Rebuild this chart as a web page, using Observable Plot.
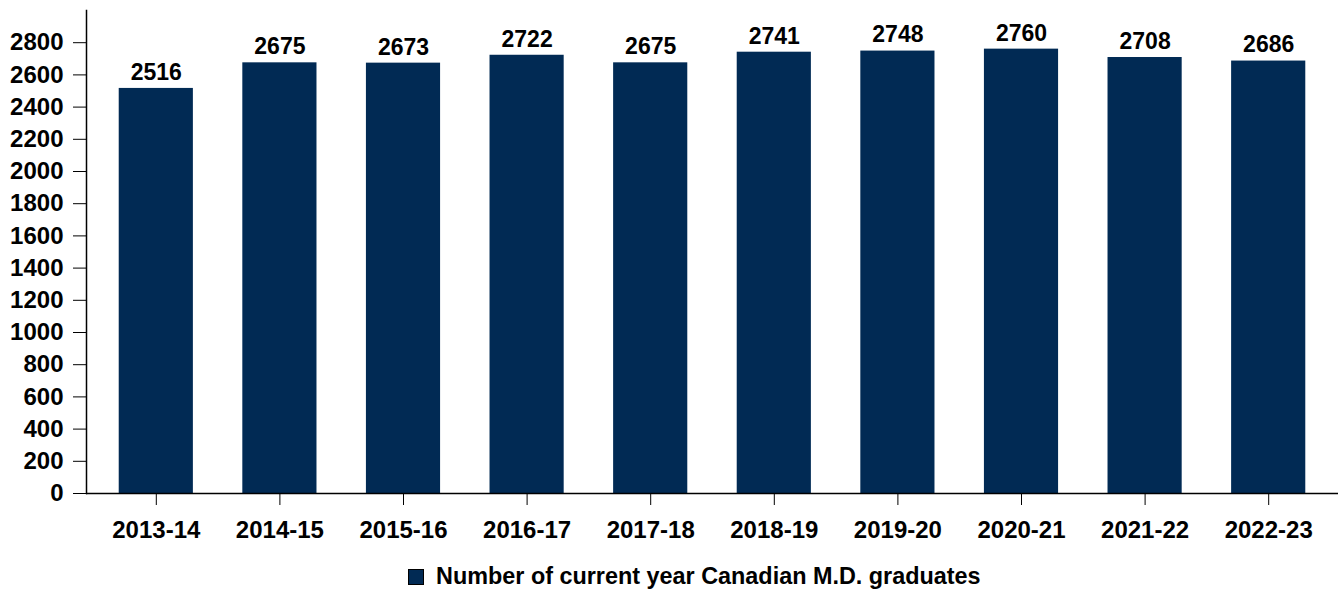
<!DOCTYPE html>
<html>
<head>
<meta charset="utf-8">
<script src="https://cdn.jsdelivr.net/npm/d3@7"></script>
<script src="https://cdn.jsdelivr.net/npm/@observablehq/plot@0.6"></script>
<style>
  html, body { margin: 0; padding: 0; background: #fff; }
  body { width: 1341px; height: 590px; position: relative; font-family: "Liberation Sans", Arial, sans-serif; overflow: hidden; }
  #legend { position: absolute; left: 408px; top: 565px; display: flex; align-items: center; font-weight: bold; font-size: 23.4px; line-height: 23px; color: #000; white-space: nowrap; }
  #legend .sw { width: 16px; height: 16px; background: #012a54; margin-right: 12px; box-sizing: border-box; border: 1px solid #000; }
</style>
</head>
<body>
<div id="chart"></div>
<div id="legend"><span class="sw"></span><span>Number of current year Canadian M.D. graduates</span></div>
<script>
const years = ["2013-14","2014-15","2015-16","2016-17","2017-18","2018-19","2019-20","2020-21","2021-22","2022-23"];
const graduates = [2516, 2675, 2673, 2722, 2675, 2741, 2748, 2760, 2708, 2686];
const yTicks = [0,200,400,600,800,1000,1200,1400,1600,1800,2000,2200,2400,2600,2800];
const seriesName = "Number of current year Canadian M.D. graduates";

const data = years.map((y, i) => ({year: y, value: graduates[i]}));

const chart = Plot.plot({
  width: 1341,
  height: 550,
  marginLeft: 86,
  marginRight: 3,
  marginTop: 10,
  marginBottom: 57,
  style: { fontFamily: '"Liberation Sans", Arial, sans-serif', fontSize: "24px", fontWeight: "bold", color: "#000", background: "#fff" },
  x: { domain: years, paddingInner: 0.4, paddingOuter: 0.2, round: false, insetLeft: 8, insetRight: 8, label: null, tickSize: 12, tickPadding: 15 },
  y: { domain: [0, 3000], ticks: yTicks, tickFormat: d => String(d), tickSize: 13, tickPadding: 10, label: null },
  marks: [
    Plot.barY(data, { x: "year", y: "value", fill: "#012a54" }),
    Plot.text(data, { x: "year", y: "value", text: d => String(d.value), dy: -16, fontSize: 23, fontWeight: "bold", fill: "#000" }),
    Plot.ruleY([0], { stroke: "#000", strokeWidth: 1.5 }),
    Plot.frame({ anchor: "left", stroke: "#000", strokeWidth: 1.5 })
  ]
});
document.getElementById("chart").appendChild(chart);
</script>
</body>
</html>
